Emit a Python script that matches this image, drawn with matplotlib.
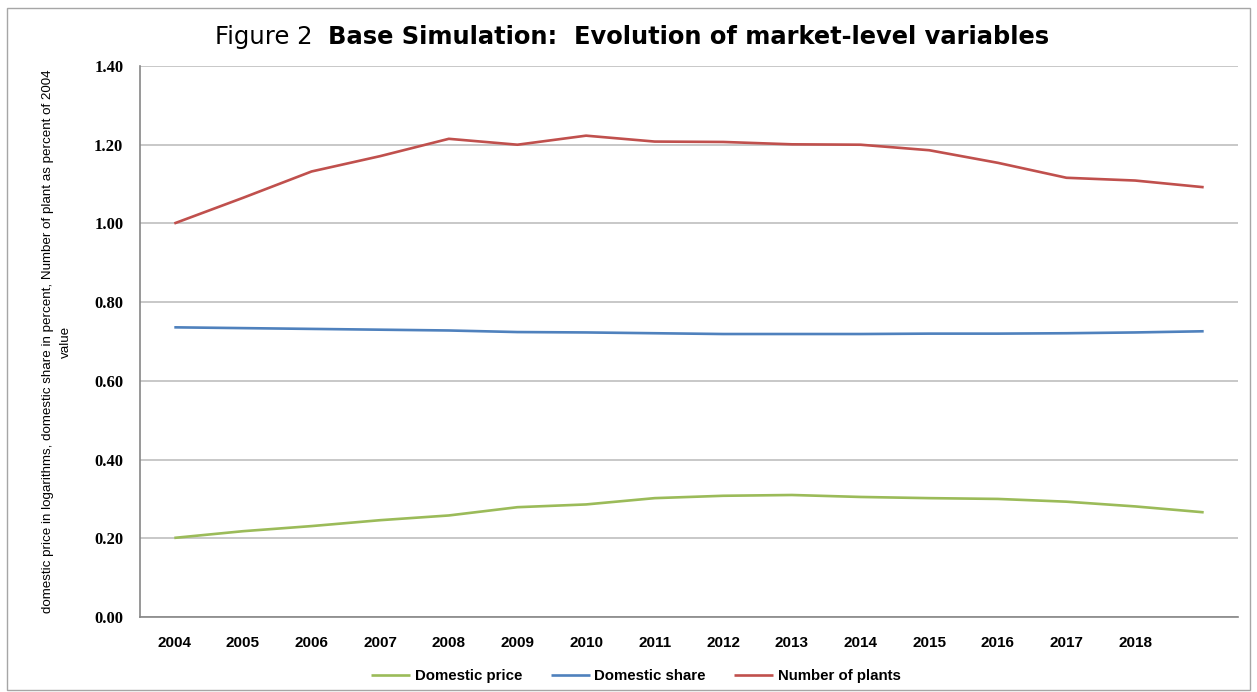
import matplotlib
matplotlib.use("Agg")
import matplotlib.pyplot as plt
from matplotlib.patches import Rectangle

years = [str(y) for y in range(2004, 2019)] + [""]

domestic_price = [0.201, 0.218, 0.231, 0.246, 0.258, 0.279, 0.286, 0.302,
                  0.308, 0.310, 0.305, 0.302, 0.300, 0.293, 0.281, 0.266]
domestic_share = [0.736, 0.734, 0.732, 0.730, 0.728, 0.724, 0.723, 0.721,
                  0.719, 0.719, 0.719, 0.720, 0.720, 0.721, 0.723, 0.726]
number_of_plants = [1.000, 1.065, 1.132, 1.171, 1.215, 1.200, 1.223, 1.208,
                    1.207, 1.201, 1.200, 1.186, 1.154, 1.116, 1.109, 1.092]

series = [
    ("Domestic price", domestic_price, "#9BBB59"),
    ("Domestic share", domestic_share, "#4F81BD"),
    ("Number of plants", number_of_plants, "#C0504D"),
]

y_ticks = [0.0, 0.2, 0.4, 0.6, 0.8, 1.0, 1.2, 1.4]

fig = plt.figure(figsize=(12.57, 6.92), dpi=100)
ax = fig.add_axes([140 / 1257, 75 / 692, 1098 / 1257, 551 / 692])

x = list(range(len(years)))
for name, vals, color in series:
    ax.plot(x, vals, color=color, lw=1.9, label=name, solid_capstyle="butt")

ax.set_xlim(-0.5, len(years) - 0.5)
ax.set_ylim(0, 1.4)
ax.set_yticks(y_ticks)
ax.set_yticklabels([f"{v:.2f}" for v in y_ticks], family="Liberation Serif",
                   weight="bold", fontsize=12)
ax.set_xticks(x)
ax.set_xticklabels(years, family="Liberation Sans", weight="bold", fontsize=11)
ax.tick_params(axis="both", length=0)
ax.tick_params(axis="y", pad=12)
ax.tick_params(axis="x", pad=14)
ax.grid(axis="y", color="#BFBFBF", lw=1.2)
ax.set_axisbelow(True)
for side in ["top", "right"]:
    ax.spines[side].set_visible(False)
for side in ["left", "bottom"]:
    ax.spines[side].set_color("#868686")
    ax.spines[side].set_linewidth(1.2)

ax.set_ylabel("domestic price in logarithms, domestic share in percent, Number of plant as percent of 2004\nvalue",
              family="Liberation Sans", fontsize=9.6, linespacing=1.7)
ax.yaxis.set_label_coords(-0.062, 0.5)

t1 = fig.text(215 / 1257, 1 - 44 / 692, "Figure 2  ", family="DejaVu Sans",
              fontsize=17.5, va="baseline", ha="left")
ax.annotate("Base Simulation:  Evolution of market-level variables",
            xy=(1, 0), xycoords=t1, va="bottom", ha="left",
            family="DejaVu Sans", weight="bold", fontsize=17.4,
            annotation_clip=False)

fig.legend(loc="center", bbox_to_anchor=(0.506, 16 / 692), ncol=3,
           frameon=False, handlelength=2.6, handletextpad=0.3,
           columnspacing=1.9, prop={"family": "Liberation Sans",
                                    "weight": "bold", "size": 10.8})

fig.patches.append(Rectangle((7 / 1257, 2 / 692), 1243 / 1257, 682 / 692,
                             transform=fig.transFigure, fill=False,
                             edgecolor="#A6A6A6", lw=1.0))

fig.savefig("out.png", dpi=100)
